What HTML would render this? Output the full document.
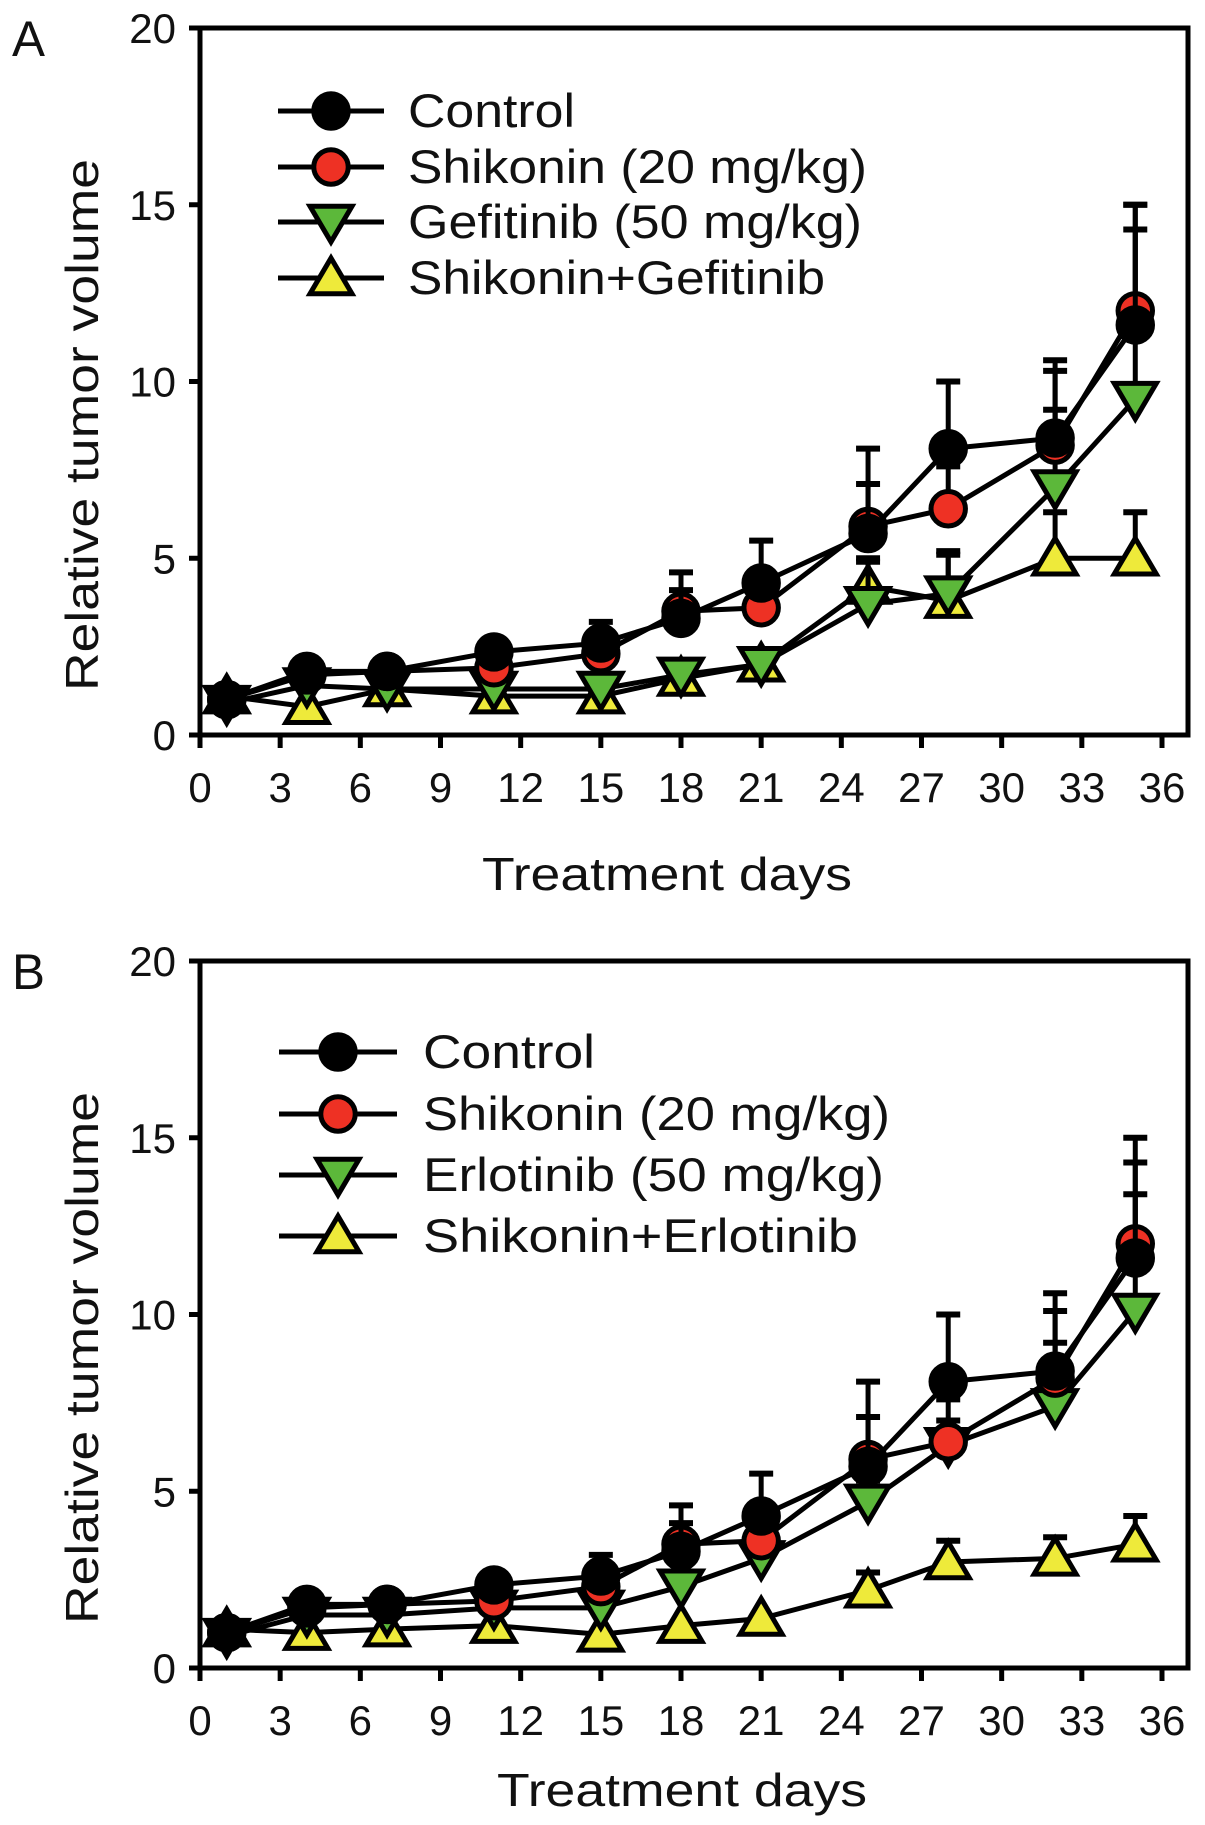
<!DOCTYPE html>
<html><head><meta charset="utf-8"><style>
html,body{margin:0;padding:0;background:#fff;}
svg{display:block;}
text{font-family:"Liberation Sans",sans-serif;fill:#111;}
</style></head><body>
<svg id="fig" width="1205" height="1825" viewBox="0 0 1205 1825" xmlns="http://www.w3.org/2000/svg"></svg>
<script>
const days = [1,4,7,11,15,18,21,25,28,32,35];
const xTicks = [0,3,6,9,12,15,18,21,24,27,30,33,36];
const yTicks = [0,5,10,15,20];

const controlVals = [1.0,1.8,1.8,2.35,2.6,3.3,4.3,5.7,8.1,8.4,11.6];
const controlErr  = [1.1,1.9,1.9,2.6,3.2,4.6,5.5,8.1,10.0,10.6,15.0];
const shikoninVals = [1.0,1.7,1.8,1.9,2.3,3.5,3.6,5.9,6.4,8.2,12.0];
const shikoninErr  = [1.1,1.8,1.9,2.1,2.7,4.1,4.3,7.1,7.6,9.2,14.3];
const gefitinibVals = [0.9,1.4,1.3,1.3,1.3,1.7,2.0,3.7,4.0,7.0,9.5];
const gefitinibErr  = [1.0,1.5,1.4,1.4,1.4,2.1,2.4,4.9,5.1,10.3,15.0];
const comboAVals = [1.1,0.8,1.3,1.1,1.1,1.6,2.0,4.2,3.8,5.0,5.0];
const comboAErr  = [1.2,0.9,1.4,1.2,1.2,1.9,2.3,5.0,5.2,6.3,6.3];
const erlotinibVals = [0.9,1.5,1.5,1.7,1.7,2.3,3.1,4.7,6.3,7.4,10.1];
const erlotinibErr  = [1.0,1.6,1.6,1.8,1.8,2.6,3.4,5.3,7.0,10.1,13.4];
const comboBVals = [1.1,1.0,1.1,1.2,0.95,1.2,1.4,2.2,3.0,3.1,3.5];
const comboBErr  = [1.2,1.1,1.2,1.3,1.05,1.3,1.5,2.7,3.6,3.7,4.3];

const legendA = ["Control","Shikonin (20 mg/kg)","Gefitinib (50 mg/kg)","Shikonin+Gefitinib"];
const legendB = ["Control","Shikonin (20 mg/kg)","Erlotinib (50 mg/kg)","Shikonin+Erlotinib"];

const NS="http://www.w3.org/2000/svg";
const svg=document.getElementById('fig');
function mk(tag,attrs,parent){const e=document.createElementNS(NS,tag);for(const k in attrs)e.setAttribute(k,attrs[k]);(parent||svg).appendChild(e);return e;}

function drawMarker(g,style,cx,cy,s){
  let e;
  if(style.shape==='circle'){
    e=mk('circle',{cx:cx,cy:cy,r:s*0.82,fill:style.fill,stroke:'#000','stroke-width':5},g);
  } else if(style.shape==='down'){
    e=mk('polygon',{points:`${cx-s},${cy-s*0.75} ${cx+s},${cy-s*0.75} ${cx},${cy+s*0.95}`,fill:style.fill,stroke:'#000','stroke-width':5},g);
  } else {
    e=mk('polygon',{points:`${cx-s},${cy+s*0.75} ${cx+s},${cy+s*0.75} ${cx},${cy-s*0.95}`,fill:style.fill,stroke:'#000','stroke-width':5},g);
  }
  return e;
}

function panel(opts){
  const X0=200, X36=1162, XR=1188;
  const Y0=opts.y0, Y20=opts.y0-707;
  const xs=d=>X0+(d/36)*(X36-X0);
  const ys=v=>Y0-(v/20)*(Y0-Y20);
  const g=mk('g',{});
  
  

  const lab=mk('text',{x:12,y:Y20+28,'font-size':50,textLength:33,lengthAdjust:'spacingAndGlyphs'},g);
  lab.textContent=opts.letter;
  
  

  const fr=mk('rect',{x:X0,y:Y20,width:XR-X0,height:Y0-Y20,fill:'none',stroke:'#000','stroke-width':5},g);
  
  

  yTicks.forEach(v=>{
    mk('line',{x1:X0-11,x2:X0,y1:ys(v),y2:ys(v),stroke:'#000','stroke-width':5},g);
    const t=mk('text',{x:X0-24,y:ys(v)+15,'font-size':42,'text-anchor':'end'},g);
    t.textContent=v;
    
    
  });
  xTicks.forEach(v=>{
    mk('line',{x1:xs(v),x2:xs(v),y1:Y0,y2:Y0+13,stroke:'#000','stroke-width':5},g);
    const t=mk('text',{x:xs(v),y:Y0+67,'font-size':42,'text-anchor':'middle'},g);
    t.textContent=v;
    
    
  });
  const xt=mk('text',{x:opts.xtX,y:Y0+opts.xtDy,'font-size':46,'text-anchor':'middle',textLength:370,lengthAdjust:'spacingAndGlyphs'},g);
  xt.textContent='Treatment days';
  
  
  const ycy=Y0-310;
  const yt=mk('text',{x:0,y:0,'font-size':46,'text-anchor':'middle',textLength:532,lengthAdjust:'spacingAndGlyphs',transform:`translate(98,${ycy}) rotate(-90)`},g);
  yt.textContent='Relative tumor volume';
  
  

  const order=[3,2,1,0];
  order.forEach(i=>{
    const s=opts.series[i];
    const sg=mk('g',{},g);
    
    
    days.forEach((d,j)=>{
      const e=s.err[j];
      if(e-s.vals[j]>0.3){
        const eb=mk('line',{x1:xs(d),x2:xs(d),y1:ys(s.vals[j]),y2:ys(e),stroke:'#000','stroke-width':5},sg);
        
        
        mk('line',{x1:xs(d)-12,x2:xs(d)+12,y1:ys(e),y2:ys(e),stroke:'#000','stroke-width':6},sg);
      }
    });
    const pts=days.map((d,j)=>xs(d)+','+ys(s.vals[j])).join(' ');
    const pl=mk('polyline',{points:pts,fill:'none',stroke:'#000','stroke-width':5},sg);
    
    
    days.forEach((d,j)=>{
      const m=drawMarker(sg,s,xs(d),ys(s.vals[j]),21);
      
      
    });
  });

  const lg=mk('g',{},g);
  
  
  opts.series.forEach((s,i)=>{
    const ly=opts.legY[i];
    const eg=mk('g',{},lg);
    
    
    mk('line',{x1:opts.legX1,x2:opts.legX2,y1:ly,y2:ly,stroke:'#000','stroke-width':5},eg);
    drawMarker(eg,s,(opts.legX1+opts.legX2)/2,ly,21);
    const t=mk('text',{x:opts.legTX,y:ly+16,'font-size':47,textLength:opts.legW[i],lengthAdjust:'spacingAndGlyphs'},eg);
    t.textContent=opts.labels[i];
  });
}

panel({name:'panel-a',letter:'A',y0:735,xtX:667,xtDy:155,
  labels:legendA,legX1:278,legX2:384,legTX:408,legY:[111,167,222,278],legW:[167,459,454,417],
  series:[
    {key:'control',vals:controlVals,err:controlErr,shape:'circle',fill:'#000'},
    {key:'shikonin',vals:shikoninVals,err:shikoninErr,shape:'circle',fill:'#ee3124'},
    {key:'gefitinib',vals:gefitinibVals,err:gefitinibErr,shape:'down',fill:'#5cb83a'},
    {key:'shikonin-gefitinib',vals:comboAVals,err:comboAErr,shape:'up',fill:'#eeea3a'}
  ]});
panel({name:'panel-b',letter:'B',y0:1668,xtX:682,xtDy:138,
  labels:legendB,legX1:279,legX2:397,legTX:423,legY:[1052,1114,1175,1236],legW:[172,467,461,435],
  series:[
    {key:'control',vals:controlVals,err:controlErr,shape:'circle',fill:'#000'},
    {key:'shikonin',vals:shikoninVals,err:shikoninErr,shape:'circle',fill:'#ee3124'},
    {key:'erlotinib',vals:erlotinibVals,err:erlotinibErr,shape:'down',fill:'#5cb83a'},
    {key:'shikonin-erlotinib',vals:comboBVals,err:comboBErr,shape:'up',fill:'#eeea3a'}
  ]});
</script>
</body></html>
